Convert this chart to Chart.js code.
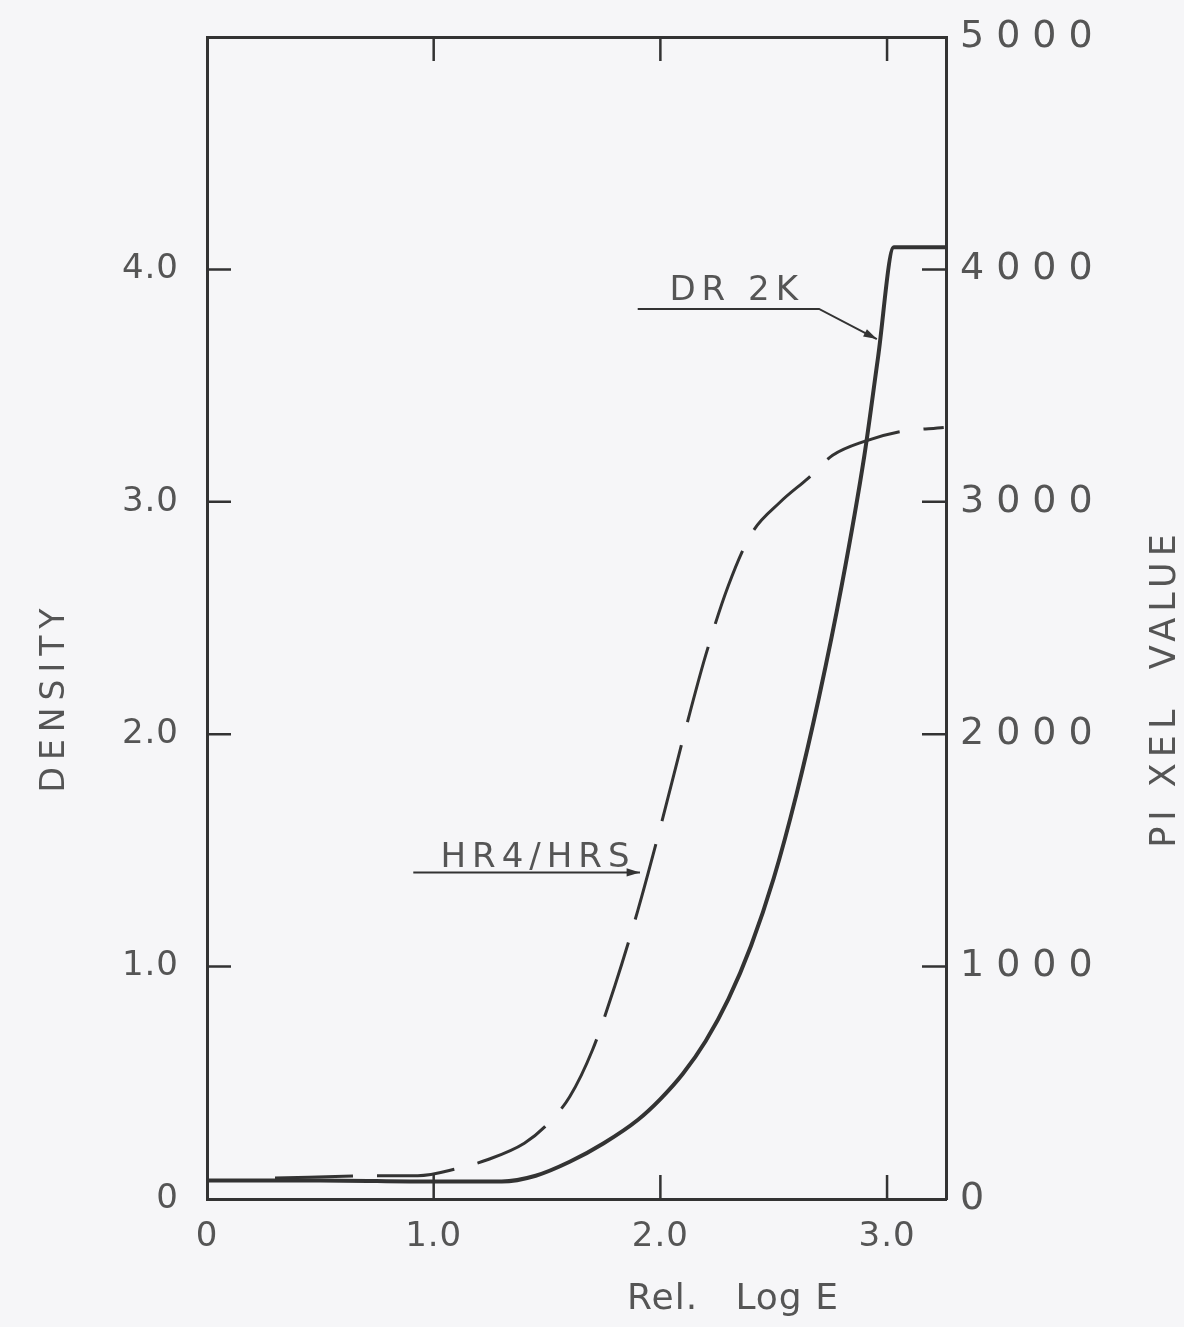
<!DOCTYPE html>
<html>
<head>
<meta charset="utf-8">
<script src="https://cdn.jsdelivr.net/npm/chart.js@4.4.1/dist/chart.umd.min.js"></script>
<style>
  html, body { margin: 0; padding: 0; background: #f6f6f8; }
  #wrap { width: 1184px; height: 1327px; position: relative; }
</style>
</head>
<body>
<div id="wrap"><canvas id="myChart"></canvas></div>
<script>
// Curva DR 2K (línea continua), densidad vs Rel. Log E
const logE_dr2k = [0, 0.5, 1.0, 1.3, 1.45, 1.6, 1.75, 1.9, 2.0, 2.1, 2.2, 2.3, 2.4, 2.5, 2.6, 2.7, 2.8, 2.9, 2.96, 3.03, 3.26];
const dens_dr2k = [0.08, 0.08, 0.075, 0.075, 0.1, 0.16, 0.24, 0.34, 0.43, 0.54, 0.68, 0.86, 1.09, 1.38, 1.74, 2.16, 2.64, 3.2, 3.62, 4.095, 4.095];

// Curva HR4/HRS (línea discontinua)
const logE_hr4 = [0.3, 0.75, 0.93, 1.1, 1.24, 1.4, 1.5, 1.6, 1.7, 1.8, 1.9, 2.0, 2.1, 2.2, 2.3, 2.4, 2.53, 2.65, 2.76, 2.9, 3.05, 3.25];
const dens_hr4 = [0.09, 0.1, 0.1, 0.13, 0.17, 0.24, 0.32, 0.44, 0.64, 0.92, 1.24, 1.6, 1.98, 2.34, 2.64, 2.86, 3.0, 3.1, 3.2, 3.26, 3.3, 3.32];

// Marcas de los ejes
const xTicks = [1, 2, 3];
const densityTicks = [1, 2, 3, 4];
const pixelTicks = [1000, 2000, 3000, 4000];

// Títulos de los ejes
const tituloX = "Rel.   Log E";
const tituloY = "DENSITY";
const tituloY2 = "PI XEL  VALUE";

// Etiquetas de las curvas: texto, posición del texto y flecha (en unidades de datos)
const labelDR = { text: "DR 2K", x: 2.04, y: 3.87, arrow: [[1.9, 3.83], [2.7, 3.83], [2.955, 3.7]] };
const labelHR = { text: "HR4/HRS", x: 1.03, y: 1.43, arrow: [[0.91, 1.405], [1.91, 1.405]] };

const ink = "#333";
const textInk = "#555";
const fontFamily = "'DejaVu Sans', sans-serif";

// Espaciado de letras de las etiquetas por escala
const spacing = { y: "1px", y2: "12px", x: "1px" };

function toPoints(xs, ys) {
  return xs.map((x, i) => ({ x: x, y: ys[i] }));
}

function textoVertical(ctx, texto, x, y, size, esp) {
  ctx.save();
  ctx.fillStyle = textInk;
  ctx.font = size + "px " + fontFamily;
  ctx.letterSpacing = esp;
  ctx.textAlign = "center";
  ctx.textBaseline = "middle";
  ctx.translate(x, y);
  ctx.rotate(-Math.PI / 2);
  ctx.fillText(texto, 0, 0);
  ctx.restore();
}

// sin margen extra para las etiquetas de los ejes verticales
function sinPadding(s) {
  s.paddingTop = 0;
  s.paddingBottom = 0;
}

const fondo = {
  id: "fondo",
  beforeDraw(chart) {
    const ctx = chart.ctx;
    ctx.save();
    ctx.fillStyle = "#f6f6f8";
    ctx.fillRect(0, 0, chart.width, chart.height);
    ctx.restore();
    // aplicar espaciado de letras a cada escala
    Object.keys(spacing).forEach((id) => {
      const s = chart.scales[id];
      if (!s || s._spaced) return;
      const drawLabels = s.drawLabels.bind(s);
      s.drawLabels = function (area) {
        const prev = this.ctx.letterSpacing;
        this.ctx.letterSpacing = spacing[id];
        drawLabels(area);
        this.ctx.letterSpacing = prev;
      };
      s._spaced = true;
    });
  },
};

// Marcas hacia dentro, títulos y anotaciones
const extras = {
  id: "extras",
  afterDraw(chart) {
    const { ctx, chartArea: a, scales } = chart;
    const len = 24;
    ctx.save();
    ctx.strokeStyle = ink;
    ctx.lineWidth = 2.5;
    ctx.beginPath();
    xTicks.forEach((v) => {
      const px = scales.x.getPixelForValue(v);
      ctx.moveTo(px, a.bottom);
      ctx.lineTo(px, a.bottom - len);
      ctx.moveTo(px, a.top);
      ctx.lineTo(px, a.top + len);
    });
    densityTicks.forEach((v) => {
      const py = scales.y.getPixelForValue(v);
      ctx.moveTo(a.left, py);
      ctx.lineTo(a.left + len, py);
    });
    pixelTicks.forEach((v) => {
      const py = scales.y2.getPixelForValue(v);
      ctx.moveTo(a.right, py);
      ctx.lineTo(a.right - len, py);
    });
    ctx.stroke();
    ctx.restore();

    // títulos de los ejes
    textoVertical(ctx, tituloY, 55, 697, 33, "7px");
    textoVertical(ctx, tituloY2, 1166, 688, 35, "6px");
    ctx.save();
    ctx.fillStyle = textInk;
    ctx.font = "36px " + fontFamily;
    ctx.letterSpacing = "1px";
    ctx.textAlign = "center";
    ctx.textBaseline = "middle";
    ctx.fillText(tituloX, 733, 1300);
    ctx.restore();

    // anotaciones
    [labelDR, labelHR].forEach((lab) => {
      ctx.save();
      ctx.fillStyle = textInk;
      ctx.font = "34px " + fontFamily;
      ctx.letterSpacing = "6px";
      ctx.textAlign = "left";
      ctx.textBaseline = "alphabetic";
      ctx.fillText(lab.text, scales.x.getPixelForValue(lab.x), scales.y.getPixelForValue(lab.y));
      ctx.strokeStyle = ink;
      ctx.lineWidth = 2;
      ctx.beginPath();
      lab.arrow.forEach((p, i) => {
        const px = scales.x.getPixelForValue(p[0]);
        const py = scales.y.getPixelForValue(p[1]);
        if (i === 0) ctx.moveTo(px, py);
        else ctx.lineTo(px, py);
      });
      ctx.stroke();
      // punta de flecha
      const n = lab.arrow.length;
      const x1 = scales.x.getPixelForValue(lab.arrow[n - 2][0]);
      const y1 = scales.y.getPixelForValue(lab.arrow[n - 2][1]);
      const x2 = scales.x.getPixelForValue(lab.arrow[n - 1][0]);
      const y2 = scales.y.getPixelForValue(lab.arrow[n - 1][1]);
      const ang = Math.atan2(y2 - y1, x2 - x1);
      ctx.fillStyle = ink;
      ctx.beginPath();
      ctx.moveTo(x2, y2);
      ctx.lineTo(x2 - 14 * Math.cos(ang - 0.3), y2 - 14 * Math.sin(ang - 0.3));
      ctx.lineTo(x2 - 14 * Math.cos(ang + 0.3), y2 - 14 * Math.sin(ang + 0.3));
      ctx.closePath();
      ctx.fill();
      ctx.restore();
    });
  },
};

const config = {
  type: "line",
  data: {
    datasets: [
      {
        label: "DR 2K",
        data: toPoints(logE_dr2k, dens_dr2k),
        borderColor: ink,
        borderWidth: 4,
        pointRadius: 0,
        cubicInterpolationMode: "monotone",
        fill: false,
      },
      {
        label: "HR4/HRS",
        data: toPoints(logE_hr4, dens_hr4),
        borderColor: ink,
        borderWidth: 3,
        borderDash: [78, 24],
        pointRadius: 0,
        cubicInterpolationMode: "monotone",
        fill: false,
      },
    ],
  },
  options: {
    responsive: true,
    maintainAspectRatio: false,
    animation: false,
    layout: { padding: 0 },
    plugins: {
      legend: { display: false },
      tooltip: { enabled: false },
    },
    scales: {
      x: {
        type: "linear",
        position: "bottom",
        min: 0,
        max: 3.26,
        grid: { display: false, drawTicks: false },
        border: { display: true, color: ink, width: 3 },
        ticks: {
          stepSize: 1,
          includeBounds: false,
          padding: 18,
          color: textInk,
          font: { family: fontFamily, size: 34 },
          maxRotation: 0,
          callback: (v) => (v === 0 ? "0" : v.toFixed(1)),
        },
        afterFit: (s) => { s.height = 128; s.paddingLeft = 0; s.paddingRight = 0; },
      },
      x2: {
        type: "linear",
        position: "top",
        min: 0,
        max: 3.26,
        grid: { display: false, drawTicks: false },
        border: { display: true, color: ink, width: 3 },
        ticks: { display: false },
        afterFit: (s) => { s.height = 37; },
      },
      y: {
        position: "left",
        min: 0,
        max: 5,
        grid: { display: false, drawTicks: false },
        border: { display: true, color: ink, width: 3 },
        ticks: {
          stepSize: 1,
          padding: 28,
          color: textInk,
          font: { family: fontFamily, size: 34 },
          callback: (v) => (v === 0 ? "0" : v === 5 ? null : v.toFixed(1)),
        },
        afterFit: (s) => { s.width = 207; sinPadding(s); },
      },
      y2: {
        position: "right",
        min: 0,
        max: 5000,
        grid: { display: false, drawTicks: false },
        border: { display: true, color: ink, width: 3 },
        ticks: {
          stepSize: 1000,
          padding: 14,
          color: textInk,
          font: { family: fontFamily, size: 38 },
          callback: (v) => String(v),
        },
        afterFit: (s) => { s.width = 238; sinPadding(s); },
      },
    },
  },
  plugins: [fondo, extras],
};

const myChart = new Chart(document.getElementById("myChart"), config);
</script>
</body>
</html>
